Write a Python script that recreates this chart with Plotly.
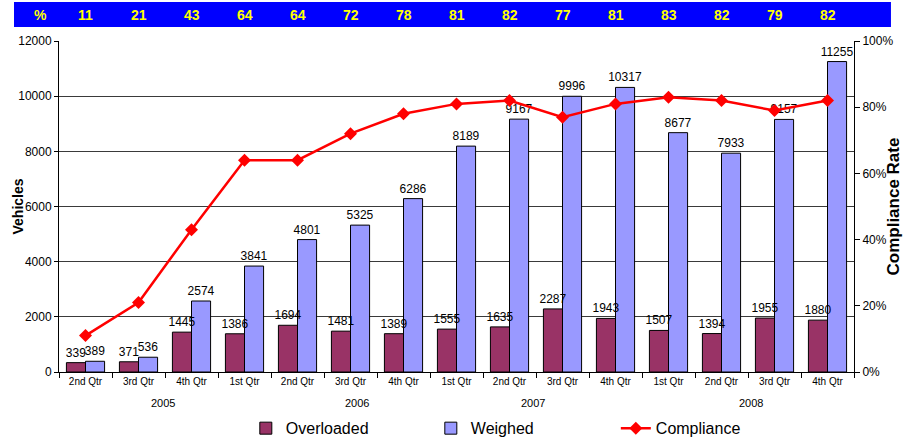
import plotly.graph_objects as go

quarters = ["2nd Qtr", "3rd Qtr", "4th Qtr", "1st Qtr", "2nd Qtr", "3rd Qtr", "4th Qtr",
            "1st Qtr", "2nd Qtr", "3rd Qtr", "4th Qtr", "1st Qtr", "2nd Qtr", "3rd Qtr", "4th Qtr"]
years = ["2005", "2006", "2007", "2008"]
overloaded = [339, 371, 1445, 1386, 1694, 1481, 1389, 1555, 1635, 2287, 1943, 1507, 1394, 1955, 1880]
weighed = [389, 536, 2574, 3841, 4801, 5325, 6286, 8189, 9167, 9996, 10317, 8677, 7933, 9157, 11255]
compliance = [11, 21, 43, 64, 64, 72, 78, 81, 82, 77, 81, 83, 82, 79, 82]

idx = list(range(len(quarters)))
year_label_x = [1.46, 5.12, 8.44, 12.56]
BAR_W = 0.36

FONT = "Liberation Sans, Arial"
NARROW = "Liberation Sans Narrow, Arial Narrow, Liberation Sans"

fig = go.Figure()
# weighed drawn first so that overloaded labels sit on top of neighbouring bars
fig.add_trace(go.Bar(
    x=idx, y=weighed, name="Weighed", legendrank=2,
    width=BAR_W, offset=0,
    marker=dict(color="#9999FF", line=dict(color="black", width=1)),
    text=[str(v) for v in weighed], textposition="outside", constraintext="none",
    textfont=dict(family=FONT, size=12, color="black"),
    cliponaxis=False,
))
fig.add_trace(go.Bar(
    x=idx, y=overloaded, name="Overloaded", legendrank=1,
    width=BAR_W, offset=-BAR_W,
    marker=dict(color="#993366", line=dict(color="black", width=1)),
    text=[str(v) for v in overloaded], textposition="outside", constraintext="none",
    textfont=dict(family=FONT, size=12, color="black"),
    cliponaxis=False,
))
fig.add_trace(go.Scatter(
    x=idx, y=[c / 100 for c in compliance], name="Compliance", yaxis="y2", legendrank=3,
    mode="lines+markers",
    line=dict(color="#FF0000", width=2.5),
    marker=dict(symbol="diamond", size=10, color="#FF0000"),
    cliponaxis=False,
))

annotations = []
annotations.append(dict(x=0, xref="paper", xanchor="center", y=1.079, yref="paper", yanchor="middle",
                        text="%", showarrow=False, xshift=-19,
                        font=dict(family=NARROW, size=14, color="#FFFF00", weight="bold")))
for i, c in enumerate(compliance):
    annotations.append(dict(x=i, xref="x", y=1.079, yref="paper", yanchor="middle",
                            text=str(c), showarrow=False,
                            font=dict(family=NARROW, size=14, color="#FFFF00", weight="bold")))
for yr, xp in zip(years, year_label_x):
    annotations.append(dict(x=xp, xref="x", y=-0.0937, yref="paper", yanchor="middle",
                            text=yr, showarrow=False,
                            font=dict(family=FONT, size=11, color="black")))
annotations.append(dict(x=-0.0528, xref="paper", y=0.5, yref="paper", xanchor="center", yanchor="middle",
                        text="<b>Vehicles</b>", textangle=-90, showarrow=False,
                        font=dict(family=FONT, size=14, color="black")))
annotations.append(dict(x=1.0503, xref="paper", y=0.5, yref="paper", xanchor="center", yanchor="middle",
                        text="<b>Compliance Rate</b>", textangle=-90, showarrow=False,
                        font=dict(family=FONT, size=17, color="black")))

fig.update_layout(
    width=906, height=439,
    margin=dict(l=59, r=52, t=41, b=67, autoexpand=False),
    paper_bgcolor="white", plot_bgcolor="white",
    barmode="overlay",
    showlegend=True,
    legend=dict(orientation="h", x=0.235, xanchor="left", y=-0.17, yanchor="middle",
                font=dict(family=FONT, size=16, color="black"),
                entrywidth=140, itemwidth=30),
    xaxis=dict(range=[-0.5, len(quarters) - 0.5], tickmode="array", tickvals=idx, ticktext=quarters,
               ticks="", showgrid=False, zeroline=False, automargin=False,
               showline=True, linecolor="black", linewidth=1,
               tickfont=dict(family=NARROW, size=10, color="black"),
               minor=dict(tickmode="array", tickvals=[i - 0.5 for i in range(len(quarters) + 1)],
                          ticks="outside", ticklen=5, tickcolor="black", showgrid=False)),
    yaxis=dict(range=[0, 12000], dtick=2000, tickformat="d", showgrid=True, gridcolor="#3a3a3a", gridwidth=1,
               showline=True, linecolor="black", linewidth=1, ticks="outside", ticklen=4,
               tickcolor="black", zeroline=False, automargin=False,
               tickfont=dict(family=FONT, size=12, color="black")),
    yaxis2=dict(range=[0, 1], dtick=0.2, tickformat=".0%", overlaying="y", side="right",
                showgrid=False, showline=True, linecolor="black", linewidth=1,
                ticks="outside", ticklen=5, tickcolor="black", zeroline=False, automargin=False,
                tickfont=dict(family=FONT, size=12, color="black")),
    shapes=[dict(type="rect", xref="paper", yref="paper", x0=-0.0566, x1=1.0465, y0=1.0423, y1=1.1178,
                 fillcolor="#0000FF", line=dict(width=0), layer="below")],
    annotations=annotations,
)

fig.write_html("out.html")
